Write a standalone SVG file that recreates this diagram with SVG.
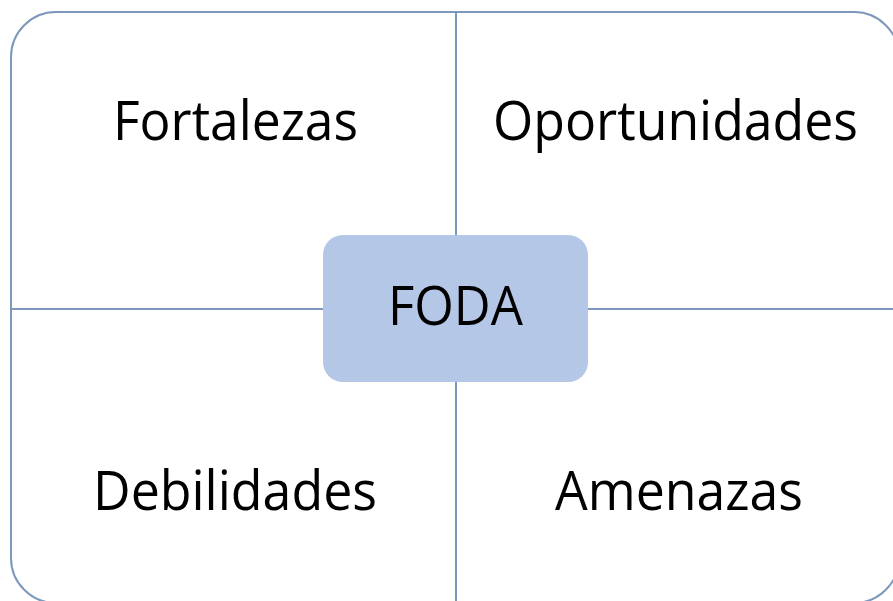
<svg xmlns="http://www.w3.org/2000/svg" width="893" height="601" viewBox="0 0 893 601">
<style>
.frame{fill:none;stroke:#7d98bc;stroke-width:2}
.line{stroke:#7d98bc;stroke-width:2;fill:none}
.lbl{font-family:"Open Sans","Liberation Sans",sans-serif;font-size:55px;fill:#000;text-anchor:start}
</style>
<rect width="893" height="601" fill="#fff"/>
<g id="connectors">
<rect class="frame" x="11" y="12" width="888" height="591" rx="45" ry="45"/>
<line class="line" x1="456" y1="12" x2="456" y2="603"/>
<line class="line" x1="11" y1="309" x2="899" y2="309"/>
</g>
<g id="fortalezas"><text class="lbl" x="113" y="140" textLength="245" lengthAdjust="spacingAndGlyphs">Fortalezas</text></g>
<g id="oportunidades"><text class="lbl" x="493" y="140" textLength="365" lengthAdjust="spacingAndGlyphs">Oportunidades</text></g>
<g id="debilidades"><text class="lbl" x="93" y="510" textLength="284" lengthAdjust="spacingAndGlyphs">Debilidades</text></g>
<g id="amenazas"><text class="lbl" x="555" y="510" textLength="248" lengthAdjust="spacingAndGlyphs">Amenazas</text></g>
<g id="foda">
<rect x="323" y="235" width="265" height="147" rx="20" ry="20" fill="#b4c7e7"/>
<text class="lbl" x="388" y="325" textLength="135" lengthAdjust="spacingAndGlyphs">FODA</text>
</g>
</svg>
